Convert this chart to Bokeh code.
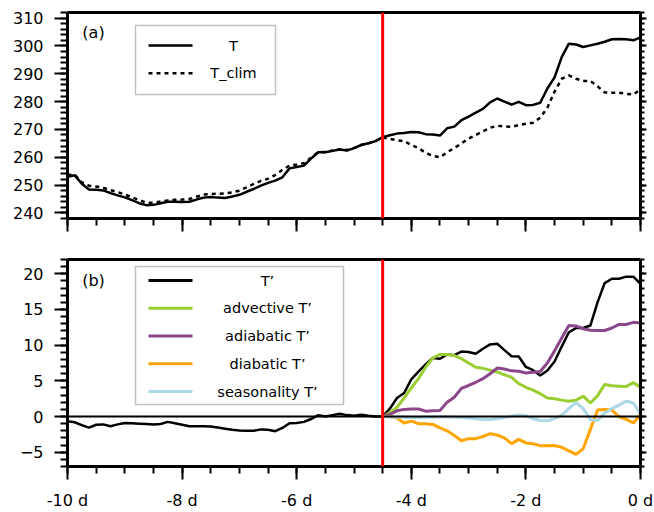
import numpy as np
from bokeh.plotting import figure
from bokeh.models import (Span, BoxAnnotation, Label, FixedTicker,
                          CustomJSTickFormatter, LinearAxis, Range1d)
from bokeh.layouts import column
from bokeh.embed import file_html
from bokeh.resources import INLINE

# ---------------- data ----------------
days = [round(v, 3) for v in np.linspace(-10, 0, 81)]   # 3-hourly time axis (days)
budget_days = days[44:]                                  # from -4.5 d onwards

T = [253.0, 253.5, 250.5, 248.4, 248.3, 248.1, 247.1, 246.3, 245.6, 244.6,
     243.5, 242.8, 242.9, 243.5, 244.0, 244.0, 243.9, 244.0, 244.8, 245.5,
     245.7, 245.5, 245.4, 245.9, 246.5, 247.6, 248.6, 249.8, 250.8, 251.6,
     252.8, 256.0, 256.5, 257.0, 259.5, 261.8, 261.8, 262.3, 262.8, 262.4,
     263.3, 264.4, 265.0, 265.8, 267.2, 267.9, 268.5, 268.7, 269.1, 269.0,
     268.3, 268.2, 267.8, 270.4, 271.0, 273.3, 274.6, 276.0, 277.4, 279.7,
     281.1, 280.0, 278.9, 279.9, 278.7, 278.8, 279.6, 284.7, 288.7, 296.0,
     300.8, 300.5, 299.6, 300.2, 300.8, 301.5, 302.4, 302.5, 302.4, 302.0,
     303.1]

T_clim = [253.6, 253.8, 251.0, 249.8, 249.5, 249.0, 248.2, 247.5, 246.6, 245.6,
          244.6, 243.7, 243.7, 244.1, 244.5, 244.7, 244.8, 245.0, 245.8, 246.6,
          246.8, 246.9, 247.0, 247.4, 248.0, 249.2, 250.4, 251.5, 252.3, 253.6,
          255.5, 257.0, 257.4, 257.9, 259.8, 261.8, 261.9, 262.4, 262.9, 262.6,
          263.3, 264.4, 265.0, 265.8, 267.1, 266.6, 266.1, 265.8, 264.4, 263.3,
          261.6, 260.5, 260.0, 261.8, 263.3, 265.0, 266.7, 268.0, 269.3, 270.6,
          271.3, 271.1, 270.9, 271.6, 272.0, 272.4, 274.2, 277.8, 283.6, 288.2,
          289.4, 288.2, 287.4, 287.4, 285.5, 283.3, 283.2, 283.2, 282.8, 282.5,
          284.4]

T_prime = [-0.65, -0.8, -1.2, -1.55, -1.15, -1.1, -1.35, -1.1, -0.9, -0.95,
           -1.0, -1.05, -1.1, -1.05, -0.75, -0.95, -1.15, -1.35, -1.35, -1.35,
           -1.4, -1.55, -1.7, -1.85, -1.95, -2.0, -2.0, -1.8, -1.85, -2.05,
           -1.6, -0.95, -0.9, -0.75, -0.35, 0.2, 0.0, 0.2, 0.4, 0.2,
           0.1, 0.25, 0.1, 0.0, 0.0, 1.1, 2.6, 3.3, 5.2, 6.3,
           7.3, 8.2, 8.1, 8.7, 8.6, 9.1, 9.05, 8.8, 9.5, 10.1,
           10.2, 9.3, 8.45, 8.4, 6.95, 6.5, 5.75, 6.45, 7.7, 9.8,
           11.8, 12.4, 12.4, 12.75, 16.0, 18.7, 19.3, 19.3, 19.6, 19.6,
           18.6]

advective = [0.0, 0.5, 1.3, 2.6, 4.0, 5.3, 6.9, 8.2, 8.7, 8.7,
             8.55, 8.1, 7.5, 6.9, 6.75, 6.5, 6.25, 5.85, 5.5, 4.6,
             4.1, 3.7, 3.2, 2.6, 2.5, 2.3, 2.15, 2.3, 2.85, 1.9,
             2.9, 4.5, 4.3, 4.25, 4.2, 4.75, 4.1]

adiabatic = [0.0, 0.3, 0.8, 1.0, 1.05, 1.05, 0.75, 0.8, 0.85, 2.0,
             2.7, 3.95, 4.35, 4.8, 5.3, 6.0, 6.8, 6.65, 6.4, 6.35,
             6.1, 6.2, 6.3, 7.5, 9.2, 11.0, 12.75, 12.7, 12.3, 12.1,
             12.05, 12.05, 12.4, 12.9, 12.9, 13.2, 13.1]

diabatic = [0.0, 0.0, -0.2, -0.9, -0.65, -1.0, -1.0, -1.1, -1.6, -2.0,
            -2.65, -3.4, -3.1, -3.1, -2.8, -2.4, -2.6, -3.0, -3.8, -3.2,
            -3.7, -3.8, -4.1, -4.1, -4.05, -4.3, -4.8, -5.3, -4.5, -1.8,
            0.9, 1.0, 0.9, 0.0, -0.4, -0.9, 0.3]

seasonality = [0.0, -0.05, -0.1, -0.1, -0.15, -0.15, -0.1, -0.1, -0.05, -0.05,
               -0.1, -0.15, -0.2, -0.3, -0.4, -0.4, -0.3, -0.15, 0.05, 0.2,
               0.1, -0.3, -0.55, -0.6, -0.3, 0.2, 1.1, 2.0, 1.1, -0.45,
               -0.55, 0.5, 1.1, 1.6, 2.15, 1.9, 0.35]

x_major = [-10, -8, -6, -4, -2, 0]
x_minor = [-10 + 0.5 * k for k in range(21)]
ya_major = [240, 250, 260, 270, 280, 290, 300, 310]
ya_minor = list(range(238, 313, 2))
yb_major = [-5, 0, 5, 10, 15, 20]
yb_minor = list(range(-7, 23, 1))

legend_a = ["T", "T_clim"]
legend_b = ["T\u2019", "advective T\u2019", "adiabatic T\u2019", "diabatic T\u2019", "seasonality T\u2019"]
colors_b = ["black", "#9acd32", "#8b4789", "#ffa500", "#add8e6"]
event_day = -4.5

FONT = "DejaVu Sans"


def blank():
    return CustomJSTickFormatter(code="return ''")


def make_fig(height, yrange, ymaj, ymin, show_xlabels, border_top, border_bottom):
    p = figure(width=654, height=height, output_backend="svg", toolbar_location=None,
               x_range=Range1d(-10, 0), y_range=Range1d(*yrange),
               x_axis_location=None, y_axis_location=None,
               min_border_left=67, min_border_right=14, min_border_top=border_top,
               min_border_bottom=border_bottom)
    p.grid.visible = False
    p.outline_line_color = None

    tick_style = dict(axis_line_width=3, axis_line_color="black",
                      major_tick_in=0, minor_tick_in=0,
                      major_tick_line_width=2, minor_tick_line_width=2,
                      major_tick_line_color="black", minor_tick_line_color="black",
                      major_label_text_font=FONT, major_label_text_font_size="16px",
                      major_label_text_color="black")
    xax = LinearAxis(ticker=FixedTicker(ticks=x_major, minor_ticks=x_minor),
                     formatter=(CustomJSTickFormatter(code="return tick.toFixed(0) + ' d'")
                                if show_xlabels else blank()),
                     major_tick_out=13, minor_tick_out=7,
                     major_label_standoff=11 if show_xlabels else 0, **tick_style)
    yax = LinearAxis(ticker=FixedTicker(ticks=ymaj, minor_ticks=ymin),
                     major_tick_out=13, minor_tick_out=7,
                     major_label_standoff=11, **tick_style)
    rax = LinearAxis(ticker=FixedTicker(ticks=ymaj, minor_ticks=ymin), formatter=blank(),
                     major_tick_out=6, minor_tick_out=4,
                     major_label_standoff=0, **tick_style)
    tax = LinearAxis(ticker=FixedTicker(ticks=[], minor_ticks=[]), formatter=blank(),
                     major_tick_out=0, minor_tick_out=0, major_label_standoff=0,
                     axis_line_width=3, axis_line_color="black")
    p.add_layout(xax, "below")
    p.add_layout(yax, "left")
    p.add_layout(rax, "right")
    p.add_layout(tax, "above")
    return p


def sbox(p, left, right, bottom, top, **kw):
    p.add_layout(BoxAnnotation(left=left, right=right, bottom=bottom, top=top,
                               left_units="screen", right_units="screen",
                               top_units="screen", bottom_units="screen", **kw))


def legend_line(p, x0, x1, y, color, width, dashed=False):
    if not dashed:
        sbox(p, x0, x1, y - width / 2, y + width / 2, fill_color=color, fill_alpha=1.0, line_alpha=0)
    else:
        xs = x0
        while xs < x1:
            sbox(p, xs, min(xs + 4, x1), y - width / 2, y + width / 2,
                 fill_color=color, fill_alpha=1.0, line_alpha=0)
            xs += 8


def legend_box(p, left, right, top, bottom):
    sbox(p, left, right, bottom, top, fill_color="white", fill_alpha=1.0,
         line_color="#333333", line_width=1.5)


def text(p, x, y, s, size):
    p.add_layout(Label(x=x, y=y, x_units="screen", y_units="screen", text=s,
                       text_align="center", text_baseline="middle",
                       text_font=FONT, text_font_size=size, text_color="black"))


# ---------------- panel (a) ----------------
p1 = make_fig(255, (238, 312), ya_major, ya_minor, False, 12, 37)
p1.line(days, T, line_color="black", line_width=2.5)
p1.line(days, T_clim, line_color="black", line_width=2.5, line_dash="4 4")
p1.add_layout(Span(location=event_day, dimension="height", line_color="#ff0000", line_width=3))

legend_box(p1, 68, 208, 193, 124)
for k, lab in enumerate(legend_a):
    yy = 173 - 27.7 * k
    legend_line(p1, 81, 125, yy, "black", 2.5, dashed=(k == 1))
    text(p1, 166, yy, lab, "14.5px")
text(p1, 26, 186, "(a)", "16px")

# ---------------- panel (b) ----------------
p2 = make_fig(257, (-7, 22), yb_major, yb_minor, True, 4, 45)
p2.add_layout(Span(location=0, dimension="width", line_color="black", line_width=2))
p2.line(days, T_prime, line_color=colors_b[0], line_width=2.5)
for ser, col in zip([advective, adiabatic, diabatic, seasonality], colors_b[1:]):
    p2.line(budget_days, ser, line_color=col, line_width=3)
p2.add_layout(Span(location=event_day, dimension="height", line_color="#ff0000", line_width=3))

legend_box(p2, 68, 276, 200, 62)
for k, (lab, col) in enumerate(zip(legend_b, colors_b)):
    yy = 186 - 27.75 * k
    legend_line(p2, 81, 125, yy, col, 3)
    text(p2, 200, yy, lab, "14.5px")
text(p2, 26, 186, "(b)", "16px")

layout = column(p1, p2)
open("out.html", "w").write(file_html(layout, INLINE))
